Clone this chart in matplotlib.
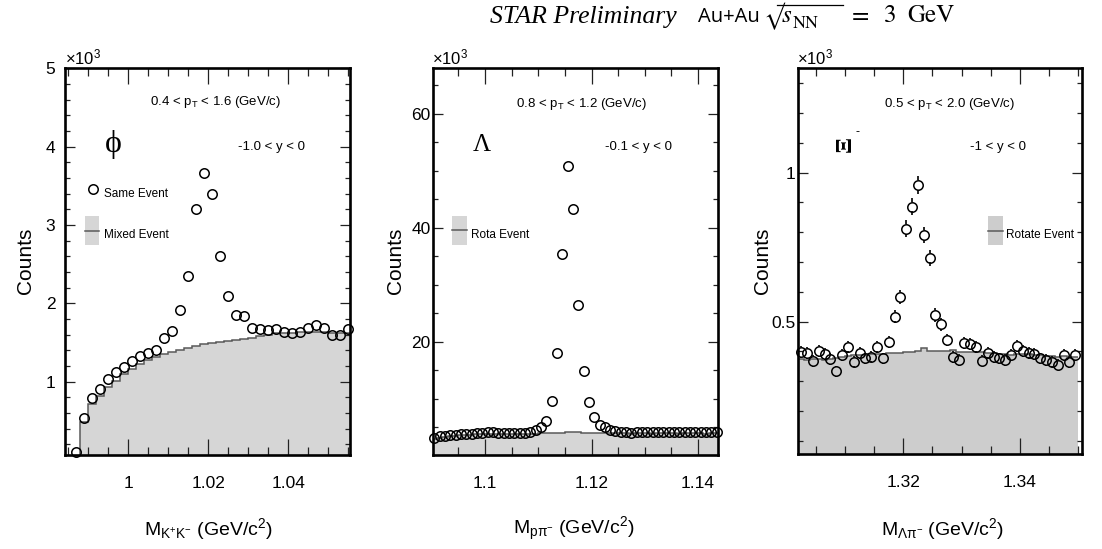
import numpy as np
import matplotlib
matplotlib.use("Agg")
import matplotlib.pyplot as plt
from matplotlib.lines import Line2D
from matplotlib.patches import Rectangle
from matplotlib.ticker import MultipleLocator, FormatStrFormatter

W, H = 1102, 549

plt.rcParams['font.family'] = ['Liberation Sans', 'DejaVu Sans']
plt.rcParams['mathtext.fontset'] = 'custom'
plt.rcParams['mathtext.rm'] = 'Liberation Sans'
plt.rcParams['mathtext.it'] = 'Liberation Sans:italic'
plt.rcParams['mathtext.bf'] = 'Liberation Sans:bold'

# ---------------- phi -> K+K- (counts in units of 10^3) ----------------
phi_first_center, phi_bin = 0.987, 0.002
phi_same = [0.10, 0.54, 0.79, 0.91, 1.04, 1.12, 1.19, 1.27, 1.33, 1.37,
            1.40, 1.56, 1.65, 1.91, 2.35, 3.20, 3.67, 3.40, 2.60, 2.10,
            1.85, 1.84, 1.69, 1.67, 1.66, 1.67, 1.63, 1.62, 1.64, 1.69,
            1.73, 1.69, 1.60, 1.60, 1.67]
phi_mixed = [0.00, 0.48, 0.71, 0.82, 0.93, 1.01, 1.10, 1.16, 1.23, 1.28,
             1.31, 1.35, 1.38, 1.41, 1.43, 1.46, 1.48, 1.50, 1.51, 1.52,
             1.53, 1.55, 1.56, 1.58, 1.60, 1.62, 1.62, 1.62, 1.63, 1.63,
             1.64, 1.63, 1.62, 1.62, 1.62]

# ---------------- Lambda -> p pi- (counts in units of 10^3) ----------------
lam_first_center, lam_bin = 1.0905, 0.001
lam_same = [3.2, 3.4, 3.5, 3.6, 3.7, 3.8, 3.85, 3.9, 4.0, 4.05,
            4.1, 4.1, 4.05, 4.0, 3.95, 3.95, 4.0, 4.05, 4.2, 4.5,
            5.0, 6.1, 9.6, 18.1, 35.5, 50.9, 43.3, 26.5, 14.9, 9.4,
            6.8, 5.5, 5.0, 4.6, 4.3,
            4.2, 4.1, 4.05, 4.1, 4.15, 4.1, 4.2, 4.15, 4.1, 4.2,
            4.15, 4.1, 4.15, 4.2, 4.1, 4.15, 4.2, 4.15, 4.2]
lam_rota = [3.0, 3.2, 3.3, 3.4, 3.5, 3.6, 3.65, 3.7, 3.75, 3.8,
            3.85, 3.85, 3.85, 3.8, 3.8, 3.8, 3.85, 3.85, 3.9, 3.9, 3.95,
            4.0, 4.0, 4.05, 4.05, 4.1, 4.1, 4.1, 4.05, 4.05, 4.0, 4.0, 3.95, 3.95, 3.95,
            3.95, 3.95, 3.9, 3.95, 3.95, 3.95, 3.9, 3.95, 3.95, 3.95,
            3.95, 3.9, 3.95, 3.95, 3.95, 3.95, 3.9, 3.95, 3.95]

# ---------------- Xi- -> Lambda pi- (counts in units of 10^3) ----------------
xi_first_center, xi_bin = 1.3025, 0.001
xi_same = [0.399, 0.394, 0.368, 0.402, 0.391, 0.374, 0.333, 0.388, 0.416, 0.366,
           0.394, 0.377, 0.383, 0.416, 0.377, 0.431, 0.517, 0.582, 0.811, 0.886,
           0.959, 0.791, 0.715, 0.522, 0.491, 0.439, 0.381, 0.371, 0.428, 0.425,
           0.416, 0.369, 0.396, 0.381, 0.377, 0.371, 0.388, 0.418, 0.402, 0.396,
           0.392, 0.377, 0.371, 0.366, 0.355, 0.388, 0.363, 0.388]
xi_rotate = [0.375, 0.372, 0.374, 0.376, 0.372, 0.375, 0.378, 0.382,
             0.386, 0.388, 0.387, 0.389, 0.390, 0.392, 0.391, 0.394,
             0.395, 0.394, 0.397, 0.399, 0.402, 0.410, 0.403, 0.400,
             0.401, 0.403, 0.405, 0.399, 0.398, 0.397, 0.399, 0.397,
             0.396, 0.394, 0.393, 0.392, 0.389, 0.390, 0.393, 0.392,
             0.389, 0.387, 0.386, 0.385, 0.383, 0.384, 0.382, 0.381]


def centers_edges(first, width, n):
    c = first + width * np.arange(n)
    e = first - width / 2 + width * np.arange(n + 1)
    return c, e


fig = plt.figure(figsize=(W / 100, H / 100), dpi=100)


def fx(px):
    return px / W


def fy(py):
    return 1 - py / H


def make_axes(left, right, top, bottom):
    return fig.add_axes([fx(left), fy(bottom), (right - left) / W, (bottom - top) / H])


FILL = '#d6d6d6'
EDGE = '#5a5a5a'


def style_axes(ax, xmaj, xmin, ymaj, ymin, ypad):
    ax.xaxis.set_major_locator(MultipleLocator(xmaj))
    ax.xaxis.set_minor_locator(MultipleLocator(xmin))
    ax.yaxis.set_major_locator(MultipleLocator(ymaj))
    ax.yaxis.set_minor_locator(MultipleLocator(ymin))
    ax.xaxis.set_major_formatter(FormatStrFormatter('%g'))
    ax.yaxis.set_major_formatter(FormatStrFormatter('%g'))
    ax.tick_params(which='both', direction='in', top=True, right=True,
                   width=0.9, color='#222222', labelsize=12.5)
    ax.tick_params(axis='x', which='major', length=11.5, pad=15)
    ax.tick_params(axis='x', which='minor', length=5.5)
    ax.tick_params(axis='y', which='major', length=7.5, pad=ypad)
    ax.tick_params(axis='y', which='minor', length=3.8)
    for s in ax.spines.values():
        s.set_linewidth(1.9)
        s.set_zorder(5)


def draw_hist(ax, values, edges, fill=FILL):
    ax.stairs(values, edges, baseline=0, fill=True, facecolor=fill,
              edgecolor='none', zorder=1)
    ax.stairs(values, edges, baseline=None, color=EDGE, linewidth=1.1, zorder=2)


def draw_points(ax, x, y):
    ax.plot(x, y, linestyle='none', marker='o', markersize=6.8,
            markerfacecolor='none', markeredgecolor='black',
            markeredgewidth=1.1, zorder=4, clip_on=False)


def legend_box(x0, x1, y0, y1, yline, fill=FILL):
    fig.add_artist(Rectangle((fx(x0), fy(y1)), (x1 - x0) / W, (y1 - y0) / H,
                             transform=fig.transFigure, facecolor=fill,
                             edgecolor='none', zorder=6))
    fig.add_artist(Line2D([fx(x0), fx(x1)], [fy(yline), fy(yline)],
                          transform=fig.transFigure, color=EDGE, linewidth=1.1,
                          zorder=7))


def label(px, py, s, size=9.5, **kw):
    fig.text(fx(px), fy(py), s, fontsize=size, va='center', **kw)


SERIF = ['Liberation Serif', 'DejaVu Serif']
STIX = ['STIXGeneral', 'DejaVu Serif']

# ====================== panel 1 : phi ======================
ax1 = make_axes(65, 350, 68.3, 455)
c, e = centers_edges(phi_first_center, phi_bin, len(phi_same))
draw_hist(ax1, phi_mixed, e)
draw_points(ax1, c, phi_same)
ax1.set_xlim(0.9842, 1.0554)
ax1.set_ylim(0.065, 5.0)
style_axes(ax1, 0.02, 0.005, 1, 0.2, ypad=7)

# ====================== panel 2 : Lambda ======================
ax2 = make_axes(433.3, 718.3, 68.3, 455)
c, e = centers_edges(lam_first_center, lam_bin, len(lam_same))
draw_hist(ax2, lam_rota, e)
draw_points(ax2, c, lam_same)
ax2.set_xlim(1.0903, 1.1438)
ax2.set_ylim(0.15, 68)
style_axes(ax2, 0.02, 0.005, 20, 5, ypad=2)

# ====================== panel 3 : Xi- ======================
XI_FILL = '#cdcdcd'
ax3 = make_axes(798.3, 1081.7, 68.3, 454.3)
c, e = centers_edges(xi_first_center, xi_bin, len(xi_same))
draw_hist(ax3, xi_rotate, e, fill=XI_FILL)
ax3.set_xlim(1.302, 1.3506)
ax3.set_ylim(0.055, 1.35)
style_axes(ax3, 0.02, 0.005, 0.5, 0.1, ypad=2)
# statistical error bars, drawn outside the open markers
xi_vals = np.array(xi_same)
xi_err = np.sqrt(xi_vals * 1000.0) / 1000.0
px_per_unit = (454.3 - 68.3) / (1.35 - 0.055)
r = 4.8 / px_per_unit
for xc, yv, ev in zip(c, xi_vals, xi_err):
    if ev > r:
        ax3.vlines([xc, xc], [yv + r, yv - ev], [yv + ev, yv - r],
                   color='black', linewidth=1.2, zorder=3)
draw_points(ax3, c, xi_same)

# ---------------- axis titles ----------------
for xc in (25, 395, 762):
    label(xc, 261, 'Counts', size=15, rotation=90, ha='center')
label(208, 529, r'M$_{\mathrm{K^{+}K^{-}}}$ (GeV/c$^{2}$)', size=14, ha='center')
label(574, 529, r'M$_{\mathrm{p\pi^{-}}}$ (GeV/c$^{2}$)', size=14, ha='center')
label(942.5, 529, r'M$_{\mathrm{\Lambda\pi^{-}}}$ (GeV/c$^{2}$)', size=14, ha='center')

# exponent markers
for xl in (65, 432, 797):
    fig.text(fx(xl), fy(64), r'$\times$10$^{3}$', fontsize=12, ha='left', va='baseline')

# ---------------- kinematic selections ----------------
label(215.8, 102, r'0.4 < p$_{\mathrm{T}}$ < 1.6 (GeV/c)', ha='center')
label(271.7, 147, '-1.0 < y < 0', ha='center')
label(581.7, 103.5, r'0.8 < p$_{\mathrm{T}}$ < 1.2 (GeV/c)', ha='center')
label(638.3, 147, '-0.1 < y < 0', ha='center')
label(949.2, 103.5, r'0.5 < p$_{\mathrm{T}}$ < 2.0 (GeV/c)', ha='center')
label(998.3, 147, '-1 < y < 0', ha='center')

# ---------------- particle symbols ----------------
label(113.3, 144, 'ϕ', size=23, ha='center', family=SERIF)
label(481.7, 145, 'Λ', size=18, ha='center', family=SERIF)
label(845.5, 144, 'Ξ', size=17, ha='center', rotation=90, family=SERIF,
      fontweight='bold')
label(858, 132, '-', size=9, ha='center')

# ---------------- legends ----------------
fig.add_artist(Line2D([fx(93.3)], [fy(189)], transform=fig.transFigure,
                      marker='o', markersize=6.8, markerfacecolor='none',
                      markeredgecolor='black', markeredgewidth=1.1))
label(104.3, 193.5, 'Same Event', size=8.5, ha='left')
legend_box(85, 99.3, 215.7, 245, 231)
label(104.3, 234.5, 'Mixed Event', size=8.5, ha='left')

legend_box(452.3, 466.7, 215.7, 245, 230)
label(470.7, 234.5, 'Rota Event', size=8.5, ha='left')

legend_box(987.7, 1003.3, 216, 245, 230.7, fill=XI_FILL)
label(1005.7, 235, 'Rotate Event', size=8.5, ha='left')

# ---------------- header ----------------
BASE = 22.5
fig.text(fx(677), fy(BASE), 'STAR Preliminary', fontsize=18.5, style='italic',
         family=SERIF, ha='right', va='baseline')
fig.text(fx(698), fy(BASE), 'Au+Au', fontsize=14.5,
         family=['Open Sans', 'DejaVu Sans'], ha='left', va='baseline')
# square root of s_NN built from glyphs plus an overbar
fig.text(fx(763), fy(BASE + 2), '√', fontsize=16, family=STIX,
         ha='left', va='baseline')
fig.add_artist(Line2D([fx(777), fx(843)], [fy(5.2), fy(5.2)],
                      transform=fig.transFigure, color='black', linewidth=0.9))
fig.text(fx(782), fy(BASE), 's', fontsize=18, family=STIX, style='italic',
         ha='left', va='baseline')
fig.text(fx(793), fy(BASE + 5), 'NN', fontsize=13, family=STIX,
         ha='left', va='baseline')
for xpos, s in ((852, '='), (884, '3'), (907, 'GeV')):
    fig.text(fx(xpos), fy(BASE), s, fontsize=18, family=STIX,
             ha='left', va='baseline')

fig.savefig('out.png', dpi=100)
